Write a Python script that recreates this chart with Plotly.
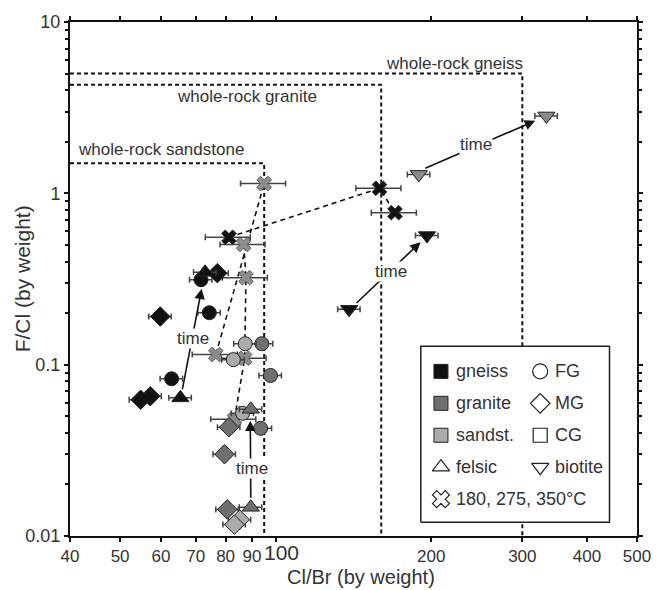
import numpy as np
import plotly.graph_objects as go

# ---------------- data ----------------
# gneiss (black)
gn_circle_x = [71.7, 74.4, 62.9]
gn_circle_y = [0.313, 0.201, 0.0827]
gn_diamond_x = [77.1, 59.8, 54.8, 57.2]
gn_diamond_y = [0.342, 0.191, 0.0624, 0.0654]
gn_tri_x = [73.0, 65.4]
gn_tri_y = [0.346, 0.064]
gn_biot_x = [196.2, 138.7]
gn_biot_y = [0.567, 0.2104]
gn_X_x = [81.2, 158.8, 170.1]
gn_X_y = [0.554, 1.07, 0.771]
# granite (dark gray)
gr_circle_x = [94.0, 97.7, 93.5]
gr_circle_y = [0.1325, 0.0865, 0.0425]
gr_diamond_x = [81.2, 79.6, 80.6]
gr_diamond_y = [0.0431, 0.030, 0.0143]
gr_tri_x = [89.5, 89.5]
gr_tri_y = [0.0549, 0.0147]
gr_biot_x = [189.2, 334.0]
gr_biot_y = [1.29, 2.83]
# sandstone (light gray)
sa_circle_x = [87.3, 82.8, 86.3]
sa_circle_y = [0.1325, 0.107, 0.052]
sa_diamond_x = [85.2, 83.2]
sa_diamond_y = [0.01245, 0.01166]
sa_X_x = [95.0, 86.7, 87.6, 76.6, 87.1, 83.2]
sa_X_y = [1.14, 0.503, 0.322, 0.1146, 0.109, 0.048]

# dashed connections between heating steps
link_gn_x = [81.2, 158.8, 170.1]
link_gn_y = [0.554, 1.07, 0.771]
link_a_x = [76.6, 95.0]
link_a_y = [0.1146, 1.14]
link_b_x = [83.2, 87.1, 87.6, 86.7]
link_b_y = [0.048, 0.109, 0.322, 0.503]

# whole-rock boxes
box_names = ["whole-rock sandstone", "whole-rock granite", "whole-rock gneiss"]
box_clbr = [95.0, 160.0, 300.0]
box_fcl = [1.5, 4.3, 5.0]

# "time" arrows: tail, head, label
arrow_tail_x = [65.9, 89.5, 142.4, 193.4]
arrow_tail_y = [0.0703, 0.0164, 0.2248, 1.39]
arrow_head_x = [71.9, 89.3, 190.6, 317.6]
arrow_head_y = [0.2777, 0.0471, 0.519, 2.65]
arrow_lab_x = [69.1, 89.9, 167.2, 244.0]
arrow_lab_y = [0.1415, 0.0248, 0.349, 1.94]

x_ticks = [40, 50, 60, 70, 80, 90, 100, 200, 300, 400, 500]
y_ticks = [0.01, 0.1, 1, 10]

BLACK = "#111111"
DARK = "#6f6f6f"
LIGHT = "#ababab"
BIOT_GRAY = "#8a8a8a"
FONT = "Liberation Sans, Arial, sans-serif"
TXT = "#333333"

fig = go.Figure()

# boxes
for bx, by in zip(box_clbr, box_fcl):
    fig.add_trace(go.Scatter(x=[40, bx, bx], y=[by, by, 0.01], mode="lines",
                             line=dict(color=BLACK, width=2, dash="4px,3px"),
                             hoverinfo="skip", showlegend=False))

# dashed links
for lx, ly in [(link_gn_x, link_gn_y), (link_a_x, link_a_y), (link_b_x, link_b_y)]:
    fig.add_trace(go.Scatter(x=lx, y=ly, mode="lines",
                             line=dict(color=BLACK, width=1.6, dash="5px,4px"),
                             hoverinfo="skip", showlegend=False))


def pts(x, y, color, symbol, size, pct, lw=1, lc="#222222"):
    fig.add_trace(go.Scatter(
        x=x, y=y, mode="markers",
        marker=dict(color=color, symbol=symbol, size=size, line=dict(color=lc, width=lw)),
        error_x=dict(type="percent", value=pct, color="#444444", thickness=1.5, width=3),
        showlegend=False))


pts(sa_X_x, sa_X_y, "#8c8c8c", "x", 13, 10, 1, "#666666")
pts(gn_X_x, gn_X_y, BLACK, "x", 13, 10, 1, "#333333")
pts(gr_circle_x, gr_circle_y, DARK, "circle", 14, 5)
pts(sa_circle_x, sa_circle_y, LIGHT, "circle", 14, 5)
pts(gr_diamond_x, gr_diamond_y, DARK, "diamond", 15, 5)
pts(sa_diamond_x, sa_diamond_y, LIGHT, "diamond", 15, 5)
pts(gr_tri_x, gr_tri_y, DARK, "triangle-up", 15, 5)
pts(gn_circle_x, gn_circle_y, BLACK, "circle", 14, 5)
pts(gn_diamond_x, gn_diamond_y, BLACK, "diamond", 15, 5)
pts(gn_tri_x, gn_tri_y, BLACK, "triangle-up", 15, 5)
pts(gn_biot_x, gn_biot_y, BLACK, "triangle-down", 15, 5)
pts(gr_biot_x, gr_biot_y, BIOT_GRAY, "triangle-down", 15, 5)

annotations = []
# whole-rock labels
annotations.append(dict(x=np.log10(41.0), y=np.log10(box_fcl[0]), xref="x", yref="y",
                        text=box_names[0], showarrow=False, xanchor="left", yanchor="bottom",
                        yshift=2, font=dict(size=17, color=TXT, family=FONT)))
annotations.append(dict(x=np.log10(87.9), y=np.log10(box_fcl[1]), xref="x", yref="y",
                        text=box_names[1], showarrow=False, xanchor="center", yanchor="top",
                        yshift=0, font=dict(size=17, color=TXT, family=FONT)))
annotations.append(dict(x=np.log10(box_clbr[2]), y=np.log10(box_fcl[2]), xref="x", yref="y",
                        text=box_names[2], showarrow=False, xanchor="right", yanchor="bottom",
                        yshift=-1, xshift=3, font=dict(size=17, color=TXT, family=FONT)))

for tx, ty, hx, hy in zip(arrow_tail_x, arrow_tail_y, arrow_head_x, arrow_head_y):
    annotations.append(dict(x=np.log10(hx), y=np.log10(hy), ax=np.log10(tx), ay=np.log10(ty),
                            xref="x", yref="y", axref="x", ayref="y", text="", showarrow=True,
                            arrowhead=2, arrowsize=1.3, arrowwidth=1.6, arrowcolor=BLACK,
                            standoff=0, startstandoff=0))
for lx, ly in zip(arrow_lab_x, arrow_lab_y):
    annotations.append(dict(x=np.log10(lx), y=np.log10(ly), xref="x", yref="y", text="time",
                            showarrow=False, bgcolor="white", borderpad=0,
                            font=dict(size=17, color=TXT, family=FONT)))

# ---------------- legend (overlay axes in plot-fraction units) ----------------
PX_L, PX_R, PX_T, PX_B = 70, 647, 13, 536


def fx(px):
    return (px - PX_L) / (PX_R - PX_L)


def fy(py):
    return (PX_B - py) / (PX_B - PX_T)


# the enlarged "100" tick label (drawn as text so it can sit just right of "90")
annotations.append(dict(x=fx(285), y=fy(553), xref="paper", yref="paper", text="100",
                        showarrow=False, xanchor="center", yanchor="middle",
                        font=dict(size=21, color=TXT, family=FONT)))

# axis titles (paper coords == plot-area fraction here)
annotations.append(dict(x=fx(366), y=fy(578), xref="paper", yref="paper", text="Cl/Br (by weight)",
                        showarrow=False, xanchor="center", yanchor="middle",
                        font=dict(size=20, color=TXT, family=FONT)))
annotations.append(dict(x=fx(22), y=fy(274), xref="paper", yref="paper", text="F/Cl (by weight)",
                        showarrow=False, xanchor="center", yanchor="middle", textangle=-90,
                        font=dict(size=21, color=TXT, family=FONT)))

lg_l, lg_r, lg_t, lg_b = fx(427), fx(619), fy(343), fy(522)
fig.add_trace(go.Scatter(x=[lg_l, lg_r, lg_r, lg_l, lg_l], y=[lg_b, lg_b, lg_t, lg_t, lg_b],
                         mode="lines", fill="toself", fillcolor="white",
                         line=dict(color="#222222", width=1.5), xaxis="x2", yaxis="y2",
                         hoverinfo="skip", showlegend=False))

rows_py = [368.5, 401, 433.5, 466, 498.5]
c1_px, c2_px = 447.5, 548.5
leg_items = [
    (c1_px, rows_py[0], "square", BLACK, "gneiss"),
    (c1_px, rows_py[1], "square", DARK, "granite"),
    (c1_px, rows_py[2], "square", LIGHT, "sandst."),
    (c1_px, rows_py[3], "triangle-up-open", "#222222", "felsic"),
    (c1_px, rows_py[4], "x-open", "#222222", "180, 275, 350°C"),
    (c2_px, rows_py[0], "circle-open", "#222222", "FG"),
    (c2_px, rows_py[1], "diamond-open", "#222222", "MG"),
    (c2_px, rows_py[2], "square-open", "#222222", "CG"),
    (c2_px, rows_py[3], "triangle-down-open", "#222222", "biotite"),
]
for px, py, sym, col, lab in leg_items:
    filled = not sym.endswith("open")
    fig.add_trace(go.Scatter(
        x=[fx(px)], y=[fy(py)], mode="markers", xaxis="x2", yaxis="y2",
        marker=dict(symbol=sym, size=15 if "square" not in sym else 14, color=col,
                    line=dict(color="#222222", width=1 if filled else 1.2)),
        hoverinfo="skip", showlegend=False))
    annotations.append(dict(x=fx(px + 13), y=fy(py), xref="x2", yref="y2", text=lab,
                            showarrow=False, xanchor="left", yanchor="middle",
                            font=dict(size=18, color=TXT, family=FONT)))

x_text = [str(v) if v != 100 else "" for v in x_ticks]
y_text = ["0.01", "0.1", "1", "10"]
minor_y = [k * 10.0 ** e for e in (-2, -1, 0) for k in range(2, 10)]

fig.update_layout(
    width=663, height=590,
    margin=dict(l=PX_L, r=663 - PX_R, t=PX_T, b=590 - PX_B),
    paper_bgcolor="white", plot_bgcolor="white",
    font=dict(family=FONT, color=TXT, size=18),
    showlegend=False,
    annotations=annotations,
    xaxis=dict(type="log", range=[np.log10(40), np.log10(500)], tickvals=x_ticks, ticktext=x_text,
               tickangle=0, ticks="outside", ticklen=4, tickwidth=1.5, tickcolor="#111111",
               showline=True, linewidth=2, linecolor="#111111", mirror="ticks",
               showgrid=False, zeroline=False, tickfont=dict(size=17, color=TXT)),
    yaxis=dict(type="log", range=[-2, 1], tickvals=y_ticks, ticktext=y_text,
               ticks="outside", ticklen=4, tickwidth=1.5, tickcolor="#111111",
               showline=True, linewidth=2, linecolor="#111111", mirror="ticks",
               showgrid=False, zeroline=False, tickfont=dict(size=18, color=TXT),
               minor=dict(tickvals=minor_y, ticks="outside", ticklen=3, tickwidth=1.5,
                          tickcolor="#111111", showgrid=False)),
    xaxis2=dict(overlaying="x", range=[0, 1], visible=False, fixedrange=True),
    yaxis2=dict(overlaying="y", range=[0, 1], visible=False, fixedrange=True),
)

fig.write_html("out.html")
